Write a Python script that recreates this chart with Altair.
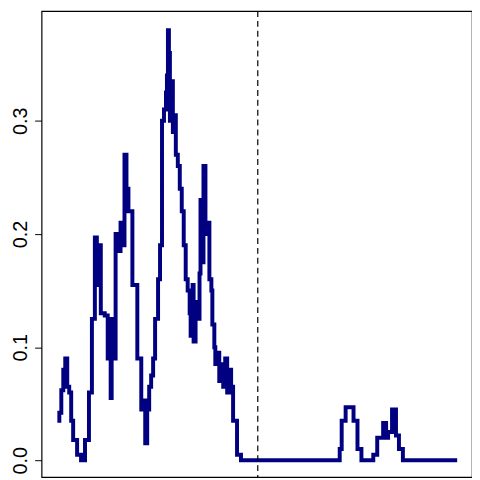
import altair as alt
import pandas as pd

xs = [58,60,62,64,66,68,70,72,74,78,82,86,90,93,96,98,100,102,106,109,112,113,115,117,120,122,124,126,128,130,132,134,137,139,141,143,145,147,149,151,153,155,157,160,162,164,166,168,169,170,171,172,174,175,177,178,180,182,184,186,188,190,192,193,195,196,198,200,202,203,205,206,208,210,212,214,215,217,218,220,222,224,226,228,230,232,234,236,240,244,344,346,350,358,362,366,378,382,388,391,393,397,401,404,408,463]
ys = [0.035,0.042,0.062,0.08,0.09,0.065,0.06,0.035,0.018,0.005,0.0,0.018,0.06,0.125,0.197,0.155,0.19,0.13,0.128,0.09,0.055,0.125,0.09,0.2,0.185,0.21,0.19,0.27,0.24,0.22,0.22,0.155,0.155,0.09,0.09,0.045,0.053,0.015,0.045,0.065,0.075,0.09,0.125,0.16,0.19,0.3,0.31,0.325,0.34,0.38,0.36,0.3,0.335,0.29,0.305,0.27,0.26,0.24,0.22,0.19,0.16,0.15,0.13,0.11,0.155,0.105,0.14,0.125,0.165,0.23,0.175,0.26,0.2,0.21,0.16,0.15,0.12,0.1,0.085,0.095,0.07,0.085,0.065,0.09,0.06,0.08,0.065,0.035,0.005,0.0,0.01,0.035,0.047,0.035,0.01,0.0,0.005,0.02,0.033,0.02,0.025,0.045,0.022,0.01,0.0,0.0]
cut = [261]

df = pd.DataFrame({"x": xs, "y": ys})
xsc = alt.Scale(domain=[42, 478], nice=False, zero=False)
ysc = alt.Scale(domain=[-0.0147, 0.397], nice=False, zero=False)

line = alt.Chart(df).mark_line(color="#000080", strokeWidth=4, interpolate="step-after").encode(
    x=alt.X("x:Q", scale=xsc, axis=None),
    y=alt.Y("y:Q", scale=ysc, axis=alt.Axis(values=[0, 0.1, 0.2, 0.3], format=".1f", title=None,
        grid=False, labelAngle=-90, labelAlign="center", labelBaseline="bottom", labelFontSize=20,
        labelFont="Liberation Sans", labelColor="black", tickColor="black", domain=False,
        tickSize=7, labelPadding=4)),
)
vline = alt.Chart(pd.DataFrame({"x": cut})).mark_rule(color="black", strokeDash=[6, 4], strokeWidth=1.2).encode(
    x=alt.X("x:Q", scale=xsc))

chart = (line + vline).properties(width=436, height=472, padding={"left": 34, "top": 0, "right": 0, "bottom": 0},
    autosize=alt.AutoSizeParams(type="none")).configure_view(stroke="black", strokeWidth=1.2)
chart.save("out.html", embed_options={"renderer": "svg", "actions": False})
